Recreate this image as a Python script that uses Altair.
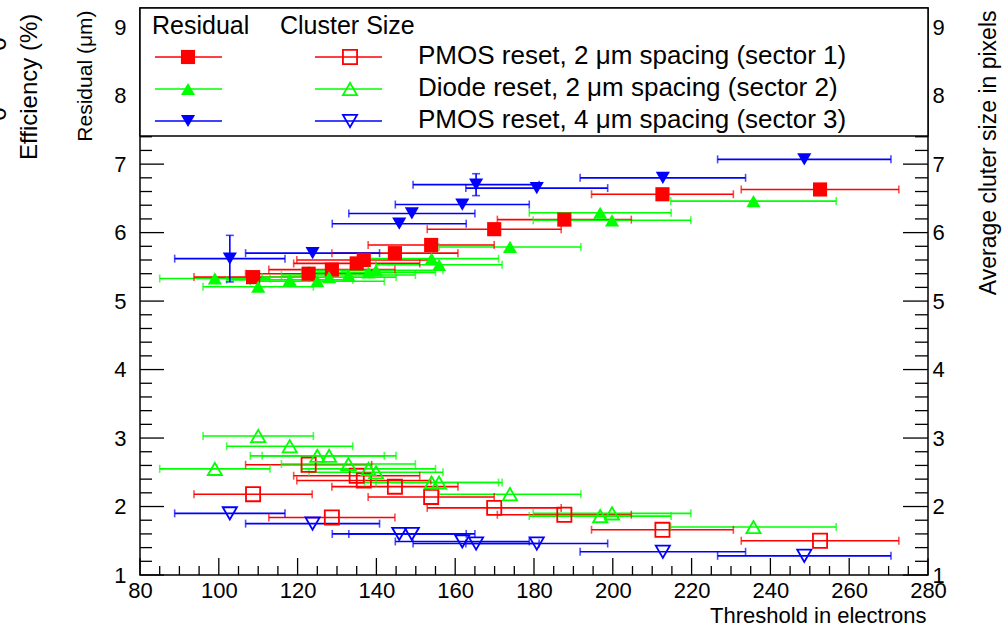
import altair as alt
import pandas as pd

# ---------------- data ----------------
series_names = ["PMOS reset, 2 μm spacing (sector 1)",
                "Diode reset, 2 μm spacing (sector 2)",
                "PMOS reset, 4 μm spacing (sector 3)"]

pmos2_thr = [108.7, 122.8, 128.7, 135.0, 136.8, 144.7, 153.9, 169.9, 187.7, 212.6, 252.6]
pmos2_thr_err = [15, 16, 16, 16, 17, 16, 16, 17, 17, 18, 20]
pmos2_res = [5.35, 5.40, 5.46, 5.55, 5.60, 5.70, 5.82, 6.05, 6.19, 6.56, 6.63]
pmos2_res_err = [0, 0, 0, 0, 0, 0, 0, 0, 0, 0, 0]
pmos2_clu = [2.18, 2.61, 1.84, 2.45, 2.38, 2.29, 2.14, 1.98, 1.88, 1.66, 1.50]

diode_thr = [99.0, 110.0, 118.0, 125.0, 128.0, 132.9, 138.0, 139.9, 154.0, 155.9, 173.9, 196.8, 199.8, 235.7]
diode_thr_err = [14, 14, 16, 17, 17, 17, 17, 17, 17, 16, 18, 18, 20, 21]
diode_res = [5.33, 5.21, 5.31, 5.29, 5.35, 5.38, 5.42, 5.45, 5.62, 5.53, 5.79, 6.29, 6.18, 6.46]
diode_res_err = [0, 0, 0, 0, 0, 0, 0, 0, 0, 0, 0, 0, 0, 0]
diode_clu = [2.55, 3.03, 2.88, 2.74, 2.74, 2.62, 2.55, 2.50, 2.35, 2.35, 2.18, 1.86, 1.90, 1.70]

pmos4_thr = [102.8, 123.8, 145.8, 149.0, 161.8, 165.3, 180.7, 212.7, 248.6]
pmos4_thr_err = [14, 17, 17, 16, 17, 16, 18, 21, 22]
pmos4_res = [5.62, 5.70, 6.13, 6.28, 6.41, 6.70, 6.65, 6.80, 7.07]
pmos4_res_err = [0.34, 0, 0, 0, 0, 0.16, 0, 0, 0]
pmos4_clu = [1.90, 1.75, 1.60, 1.60, 1.49, 1.46, 1.46, 1.34, 1.28]

x_major = [80, 100, 120, 140, 160, 180, 200, 220, 240, 260, 280]
x_minor = [v for v in range(80, 281, 5) if v % 20 != 0]
y_major = [1, 2, 3, 4, 5, 6, 7, 8, 9]
y_minor = [round(1 + 0.2 * i, 1) for i in range(0, 42) if (i % 5) != 0]

# ---------------- build tables ----------------
rows = []
for name, thr, terr, res, rerr, clu in [
    (series_names[0], pmos2_thr, pmos2_thr_err, pmos2_res, pmos2_res_err, pmos2_clu),
    (series_names[1], diode_thr, diode_thr_err, diode_res, diode_res_err, diode_clu),
    (series_names[2], pmos4_thr, pmos4_thr_err, pmos4_res, pmos4_res_err, pmos4_clu),
]:
    for i in range(len(thr)):
        rows.append(dict(series=name, kind="res", x=thr[i], y=res[i],
                         xlo=thr[i] - terr[i], xhi=thr[i] + terr[i],
                         ylo=res[i] - rerr[i], yhi=res[i] + rerr[i], yerr=rerr[i]))
        rows.append(dict(series=name, kind="clu", x=thr[i], y=clu[i],
                         xlo=thr[i] - terr[i], xhi=thr[i] + terr[i],
                         ylo=clu[i], yhi=clu[i], yerr=0))
df = pd.DataFrame(rows)

W, H = 788, 567
FONT = "Liberation Sans"
xsc = alt.Scale(domain=[80, 280], nice=False, zero=False)
ysc = alt.Scale(domain=[1, 9.28], nice=False, zero=False)
col = alt.Scale(domain=series_names, range=["#ff0000", "#00ff00", "#0000ff"])
shp = alt.Scale(domain=series_names, range=["square", "triangle-up", "triangle-down"])
COLOR = alt.Color("series:N", scale=col, legend=None)
SHAPE = alt.Shape("series:N", scale=shp, legend=None)


def X(f):
    return alt.X(f, type="quantitative", scale=xsc, axis=None)


def Y(f):
    return alt.Y(f, type="quantitative", scale=ysc, axis=None)


base = alt.Chart(df)

# ---- axes drawn with inward ticks ----
xt = pd.DataFrame({"v": x_major + x_minor, "major": [1] * len(x_major) + [0] * len(x_minor)})
yt = pd.DataFrame({"v": y_major + y_minor, "major": [1] * len(y_major) + [0] * len(y_minor)})

bottom_major = alt.Chart(xt).transform_filter("datum.major == 1").mark_rule(color="black", strokeWidth=1.3).encode(
    x=alt.X("v:Q", scale=xsc, axis=alt.Axis(
        values=x_major, ticks=False, domain=False, grid=False, labelFontSize=22, labelPadding=5,
        labelFlush=False, labelOverlap=False, labelFont=FONT, labelColor="black",
        title="Threshold in electrons", titleFont=FONT, titleFontSize=22, titleFontWeight="normal",
        titleColor="black", titleX=786, titleY=40, titleAlign="right", titleBaseline="middle")),
    y=alt.value(H), y2=alt.value(H - 17))
bottom_minor = alt.Chart(xt).transform_filter("datum.major == 0").mark_rule(color="black", strokeWidth=1.3).encode(
    x=alt.X("v:Q", scale=xsc, axis=None), y=alt.value(H), y2=alt.value(H - 9))

left_major = alt.Chart(yt).transform_filter("datum.major == 1").mark_rule(color="black", strokeWidth=1.3).encode(
    y=alt.Y("v:Q", scale=ysc, axis=alt.Axis(
        orient="left", values=y_major, ticks=False, domain=False, grid=False, labelFontSize=22,
        labelPadding=14, labelFlush=False, labelOverlap=False, labelFont=FONT, labelColor="black",
        title="Residual (μm)", titleFont=FONT, titleFontSize=21, titleFontWeight="normal",
        titleColor="black", titleAngle=270, titleX=-55, titleY=2, titleAlign="right",
        titleBaseline="middle")),
    x=alt.value(0), x2=alt.value(24))
left_minor = alt.Chart(yt).transform_filter("datum.major == 0").mark_rule(color="black", strokeWidth=1.3).encode(
    y=alt.Y("v:Q", scale=ysc, axis=None), x=alt.value(0), x2=alt.value(12))

right_major = alt.Chart(yt).transform_filter("datum.major == 1").mark_rule(color="black", strokeWidth=1.3).encode(
    y=alt.Y("v:Q", scale=ysc, axis=alt.Axis(
        orient="right", values=y_major, ticks=False, domain=False, grid=False, labelFontSize=22,
        labelPadding=4, labelFlush=False, labelOverlap=False, labelFont=FONT, labelColor="black",
        title="Average cluter size in pixels", titleFont=FONT, titleFontSize=23,
        titleFontWeight="normal", titleColor="black", titleAngle=270, titleX=60, titleY=2,
        titleAlign="right", titleBaseline="middle")),
    x=alt.value(W - 25), x2=alt.value(W))
right_minor = alt.Chart(yt).transform_filter("datum.major == 0").mark_rule(color="black", strokeWidth=1.3).encode(
    y=alt.Y("v:Q", scale=ysc, axis=None), x=alt.value(W - 13), x2=alt.value(W))

# ---- error bars ----
hbar = base.mark_rule(strokeWidth=1.6).encode(x=X("xlo"), x2="xhi:Q", y=Y("y"), color=COLOR)
cap_lo = base.mark_tick(orient="vertical", size=8, thickness=1.6).encode(x=X("xlo"), y=Y("y"), color=COLOR)
cap_hi = base.mark_tick(orient="vertical", size=8, thickness=1.6).encode(x=X("xhi"), y=Y("y"), color=COLOR)
vbar = base.transform_filter("datum.yerr > 0").mark_rule(strokeWidth=1.6).encode(
    x=X("x"), y=Y("ylo"), y2="yhi:Q", color=COLOR)
vcap_lo = base.transform_filter("datum.yerr > 0").mark_tick(orient="horizontal", size=8, thickness=1.6).encode(
    x=X("x"), y=Y("ylo"), color=COLOR)
vcap_hi = base.transform_filter("datum.yerr > 0").mark_tick(orient="horizontal", size=8, thickness=1.6).encode(
    x=X("x"), y=Y("yhi"), color=COLOR)

res_pts = base.transform_filter("datum.kind == 'res'").mark_point(filled=True, opacity=1, size=200).encode(
    x=X("x"), y=Y("y"), color=COLOR, shape=SHAPE)
clu_pts = base.transform_filter("datum.kind == 'clu'").mark_point(filled=False, opacity=1, size=200, strokeWidth=1.8).encode(
    x=X("x"), y=Y("y"), color=COLOR, shape=SHAPE)

# ---- legend box ----
one = pd.DataFrame({"a": [0]})
leg_box = alt.Chart(one).mark_rect(fill="white", stroke="black", strokeWidth=1.5).encode(
    x=alt.value(0), x2=alt.value(W), y=alt.value(0), y2=alt.value(128))
hdr = pd.DataFrame({"t": ["Residual", "Cluster Size"], "px": [12, 140]})
leg_hdr = alt.Chart(hdr).mark_text(align="left", baseline="middle", fontSize=25, font=FONT, color="black").encode(
    x=alt.X("px:Q", scale=None), y=alt.value(18), text="t:N")
ldf = pd.DataFrame({"series": series_names, "py": [49, 81, 113]})
lchart = alt.Chart(ldf)
leg_line1 = lchart.mark_rule(strokeWidth=1.6).encode(
    x=alt.value(15), x2=alt.value(82), y=alt.Y("py:Q", scale=None), color=COLOR)
leg_line2 = lchart.mark_rule(strokeWidth=1.6).encode(
    x=alt.value(175), x2=alt.value(242), y=alt.Y("py:Q", scale=None), color=COLOR)
leg_m1 = lchart.mark_point(filled=True, opacity=1, size=200).encode(
    x=alt.value(48), y=alt.Y("py:Q", scale=None), color=COLOR, shape=SHAPE)
leg_m2 = lchart.mark_point(filled=False, opacity=1, size=200, strokeWidth=1.8).encode(
    x=alt.value(210), y=alt.Y("py:Q", scale=None), color=COLOR, shape=SHAPE)
leg_txt = lchart.mark_text(align="left", baseline="middle", fontSize=26, font=FONT, color="black", dy=-1).encode(
    x=alt.value(278), y=alt.Y("py:Q", scale=None), text="series:N")

# ---- stray texts at left (cut-off axes of a neighbouring panel) ----
eff = alt.Chart(pd.DataFrame({"t": ["Efficiency (%)"]})).mark_text(
    angle=270, align="left", baseline="middle", fontSize=24, font=FONT, color="black").encode(
    x=alt.value(30 - 140), y=alt.value(160 - 8), text="t:N")
zeros = alt.Chart(pd.DataFrame({"t": ["0", "0"], "py": [36, 106]})).mark_text(
    angle=270, align="center", baseline="middle", fontSize=24, font=FONT, color="black").encode(
    x=alt.value(-141), y=alt.Y("py:Q", scale=None), text="t:N")

chart = alt.layer(
    bottom_major, bottom_minor, left_major, left_minor, right_major, right_minor,
    hbar, cap_lo, cap_hi, vbar, vcap_lo, vcap_hi, res_pts, clu_pts,
    leg_box, leg_hdr, leg_line1, leg_line2, leg_m1, leg_m2, leg_txt, eff, zeros
).resolve_scale(x="independent", y="independent").properties(
    width=W, height=H, autosize="none",
    padding={"left": 140, "top": 8, "right": 1004 - 140 - W, "bottom": 629 - 8 - H},
    background="white"
).configure_view(stroke="black", strokeWidth=1.5)

chart.save("out.html", embed_options={"renderer": "svg", "actions": False})
